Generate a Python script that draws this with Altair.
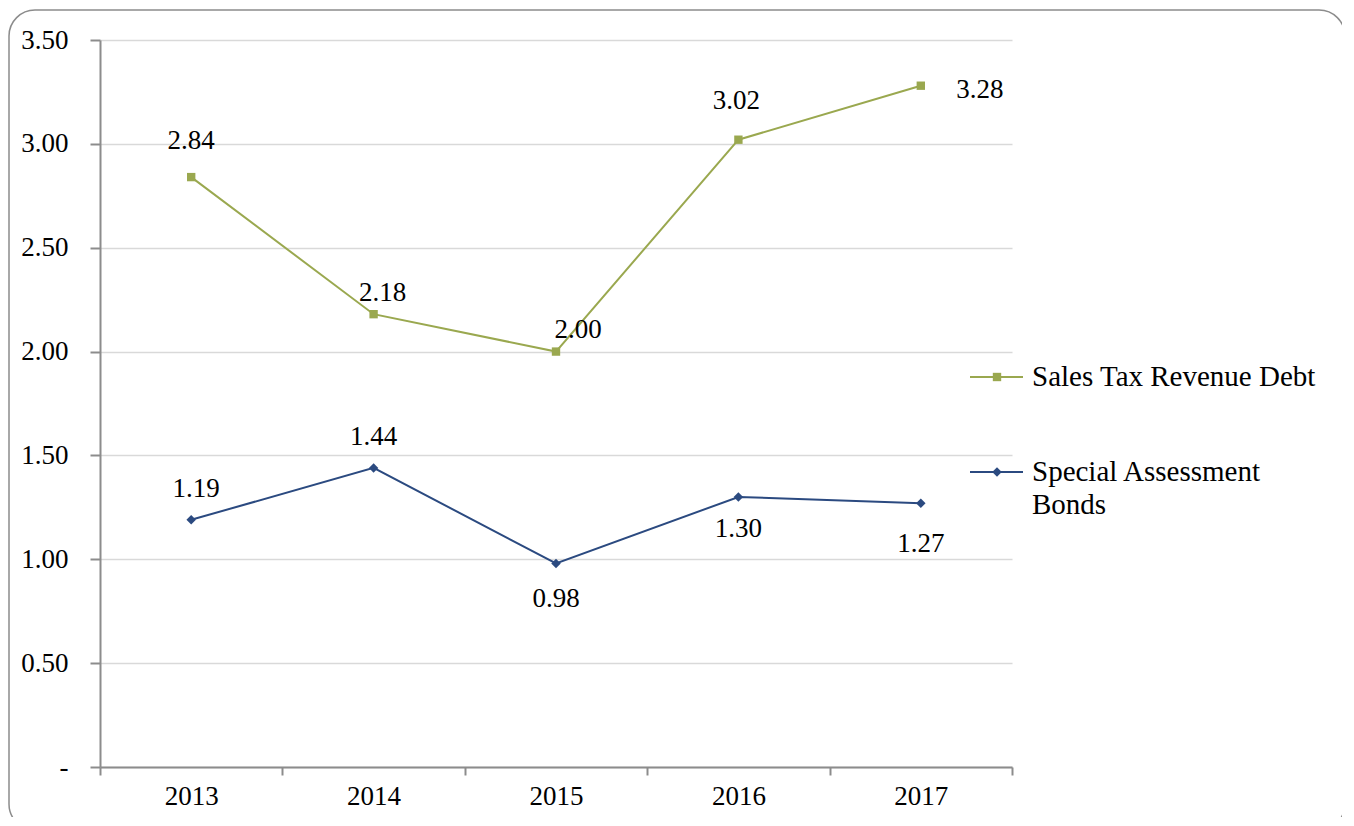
import altair as alt
import pandas as pd

years = ["2013", "2014", "2015", "2016", "2017"]
series = ["Sales Tax Revenue Debt", "Special Assessment Bonds"]
sales_tax = [2.84, 2.18, 2.00, 3.02, 3.28]
special = [1.19, 1.44, 0.98, 1.30, 1.27]

# label placement (pixels), as in the reference
sales_dx = [0, 9, 22, -2, 59]
sales_dy = [-36, -21, -22, -39, 4]
special_dx = [5, 0, 0, 0, 0]
special_dy = [-31, -31, 36, 32, 41]

colors = ["#9aa84f", "#2b4a80"]
shapes = ["square", "diamond"]
FONT = "Liberation Serif"
FS = 27
LFS = 29

rows = []
for i, y in enumerate(years):
    rows.append(dict(year=y, series=series[0], value=sales_tax[i], ldx=sales_dx[i], ldy=sales_dy[i]))
    rows.append(dict(year=y, series=series[1], value=special[i], ldx=special_dx[i], ldy=special_dy[i]))
df = pd.DataFrame(rows)

W, H = 912, 727

xenc = alt.X("year:O", scale=alt.Scale(type="band", paddingInner=0, paddingOuter=0),
             axis=alt.Axis(title=None, labelAngle=0, tickBand="extent", grid=False,
                           domainColor="#8c8c8c", domainWidth=2, tickColor="#8c8c8c",
                           tickWidth=2, tickSize=8, labelPadding=8,
                           labelFont=FONT, labelFontSize=FS, labelColor="#000000"))
yenc = alt.Y("value:Q", scale=alt.Scale(domain=[0, 3.5], nice=False, zero=True),
             axis=alt.Axis(title=None, values=[0, 0.5, 1, 1.5, 2, 2.5, 3, 3.5],
                           labelExpr="datum.value == 0 ? '-' : format(datum.value, '.2f')",
                           grid=True, gridColor="#d9d9d9", gridWidth=1.5,
                           domainColor="#8c8c8c", domainWidth=2, tickColor="#8c8c8c",
                           tickWidth=2, tickSize=10, labelPadding=22,
                           labelFont=FONT, labelFontSize=FS, labelColor="#000000"))
color = alt.Color("series:N", scale=alt.Scale(domain=series, range=colors), legend=None)
shape = alt.Shape("series:N", scale=alt.Scale(domain=series, range=shapes), legend=None)

border = alt.Chart(pd.DataFrame({"a": [0]})).mark_rect(
    filled=False, stroke="#8c8c8c", strokeWidth=1.5, cornerRadius=26
).encode(x=alt.value(-91), x2=alt.value(1245), y=alt.value(-30), y2=alt.value(790))

base = alt.Chart(df)
lines = base.mark_line(strokeWidth=2).encode(x=xenc, y=yenc, color=color, detail="series:N")
points = base.mark_point(filled=True, opacity=1).encode(
    x=xenc, y=yenc, color=color, shape=shape,
    size=alt.condition(alt.datum.series == series[0], alt.value(70), alt.value(90)))
labels = base.mark_text(font=FONT, fontSize=FS, color="#000000", baseline="middle", align="center",
                        dx=alt.ExprRef("datum.ldx"), dy=alt.ExprRef("datum.ldy")).encode(
    x=xenc, y=yenc,
    text=alt.Text("value:Q", format=".2f"))

# manual legend
leg_y = [337, 432]
leg_rows, leg_text = [], []
for i, name in enumerate(series):
    leg_rows.append(dict(series=name, x1=870, x2=923, xm=897, py=leg_y[i]))
    words = name.split(" ")
    if len(name) > 22:
        parts = [" ".join(words[:-1]), words[-1]]
    else:
        parts = [name]
    for j, p in enumerate(parts):
        leg_text.append(dict(t=p, px=932, py=leg_y[i] + j * 33))
ldf = pd.DataFrame(leg_rows)
tdf = pd.DataFrame(leg_text)
leg_lines = alt.Chart(ldf).mark_rule(strokeWidth=2).encode(
    x=alt.X("x1:Q", scale=None), x2="x2:Q", y=alt.Y("py:Q", scale=None), color=color)
leg_pts = alt.Chart(ldf).mark_point(filled=True, opacity=1).encode(
    x=alt.X("xm:Q", scale=None), y=alt.Y("py:Q", scale=None), color=color, shape=shape,
    size=alt.condition(alt.datum.series == series[0], alt.value(70), alt.value(90)))
leg_txt = alt.Chart(tdf).mark_text(font=FONT, fontSize=LFS, color="#000000", align="left", baseline="middle").encode(
    x=alt.X("px:Q", scale=None), y=alt.Y("py:Q", scale=None), text="t:N")

chart = alt.layer(border, lines, points, labels, leg_lines, leg_pts, leg_txt).properties(
    width=W, height=H,
    autosize=alt.AutoSizeParams(type="none"),
    padding={"left": 92, "top": 32, "right": 330, "bottom": 50},
    background="#ffffff",
).configure_view(stroke=None)

chart.save("out.html", embed_options={"renderer": "svg", "actions": False})
